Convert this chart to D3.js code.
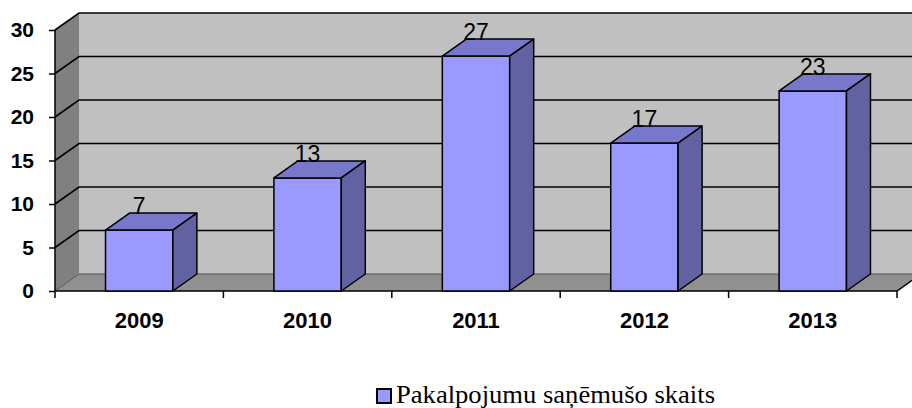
<!DOCTYPE html>
<html>
<head>
<meta charset="utf-8">
<script src="https://cdn.jsdelivr.net/npm/d3@7"></script>
<style>
  body { margin: 0; background: #fff; }
  svg { display: block; }
</style>
</head>
<body>
<svg id="chart" width="912" height="408"></svg>
<script>
var years = ["2009", "2010", "2011", "2012", "2013"];
var counts = [7, 13, 27, 17, 23];
var yTicks = [0, 5, 10, 15, 20, 25, 30];
var seriesName = "Pakalpojumu saņēmušo skaits";

var DX = 24, DY = -17;   // depth offset of the 3d box

var svg = d3.select("#chart");

var x = d3.scaleBand()
    .domain(years)
    .range([55, 897])
    .paddingInner(0.6)
    .paddingOuter(0.3);

var y = d3.scaleLinear()
    .domain([0, 30])
    .range([291, 30]);

var left = x.range()[0], right = x.range()[1];

function pts(a) {
    return a.map(function (p) { return p.join(","); }).join(" ");
}

// back wall
svg.append("rect")
    .attr("x", left + DX)
    .attr("y", y(30) + DY)
    .attr("width", right - left + 10)
    .attr("height", y(0) - y(30))
    .attr("fill", "#c0c0c0");

// side wall
svg.append("polygon")
    .attr("points", pts([[left, y(0)], [left, y(30)], [left + DX, y(30) + DY], [left + DX, y(0) + DY]]))
    .attr("fill", "#808080");

// floor
svg.append("polygon")
    .attr("points", pts([[left, y(0)], [right, y(0)], [right + DX, y(0) + DY], [left + DX, y(0) + DY]]))
    .attr("fill", "#909090");

// gridlines
var grid = svg.append("g").attr("fill", "none");
yTicks.forEach(function (t) {
    grid.append("polyline")
        .attr("points", pts([[left, y(t)], [left + DX, y(t) + DY], [right + DX + 10, y(t) + DY]]))
        .attr("stroke", t === 0 ? "#555" : "#000")
        .attr("stroke-width", t === 0 ? 1 : 1.6);
});
// side wall front edge + floor front edge
svg.append("line")
    .attr("x1", left).attr("y1", y(30)).attr("x2", left).attr("y2", y(0))
    .attr("stroke", "#000").attr("stroke-width", 1.5);
svg.append("polyline")
    .attr("points", pts([[left, y(0)], [right, y(0)], [right + DX, y(0) + DY]]))
    .attr("fill", "none").attr("stroke", "#000").attr("stroke-width", 1.5);

// y axis
var yAxis = svg.append("g")
    .attr("transform", "translate(" + left + ",0)")
    .call(d3.axisLeft(y).tickValues(yTicks).tickSize(6).tickPadding(15));
yAxis.select(".domain").remove();
yAxis.selectAll("line").attr("stroke", "#000").attr("stroke-width", 1.5);
yAxis.selectAll("text")
    .attr("fill", "#000")
    .style("font-family", "Arial, 'Liberation Sans', sans-serif")
    .style("font-size", "21px")
    .style("font-weight", "bold");

// x axis ticks at category boundaries
var bounds = years.map(function (d) { return x(d) - x.step() * x.paddingOuter(); }).concat([right]);
svg.append("g").selectAll("line")
    .data(bounds)
    .join("line")
    .attr("x1", function (d) { return d; })
    .attr("x2", function (d) { return d; })
    .attr("y1", y(0))
    .attr("y2", y(0) + 7)
    .attr("stroke", "#000")
    .attr("stroke-width", 1.5);

svg.append("g").selectAll("text")
    .data(years)
    .join("text")
    .attr("x", function (d) { return x(d) + x.bandwidth() / 2; })
    .attr("y", 328)
    .attr("text-anchor", "middle")
    .style("font-family", "Arial, 'Liberation Sans', sans-serif")
    .style("font-size", "22px")
    .style("font-weight", "bold")
    .text(function (d) { return d; });

// bars
var data = years.map(function (d, i) { return { year: d, value: counts[i] }; });
var bars = svg.append("g").selectAll("g")
    .data(data)
    .join("g")
    .attr("stroke", "#000")
    .attr("stroke-width", 1.5)
    .attr("stroke-linejoin", "round");

bars.append("rect")
    .attr("x", function (d) { return x(d.year); })
    .attr("y", function (d) { return y(d.value); })
    .attr("width", x.bandwidth())
    .attr("height", function (d) { return y(0) - y(d.value); })
    .attr("fill", "#9999ff");

bars.append("polygon")
    .attr("points", function (d) {
        var x0 = x(d.year), x1 = x0 + x.bandwidth(), yt = y(d.value);
        return pts([[x0, yt], [x1, yt], [x1 + DX, yt + DY], [x0 + DX, yt + DY]]);
    })
    .attr("fill", "#7777cc");

bars.append("polygon")
    .attr("points", function (d) {
        var x1 = x(d.year) + x.bandwidth(), yt = y(d.value), yb = y(0);
        return pts([[x1, yt], [x1 + DX, yt + DY], [x1 + DX, yb + DY], [x1, yb]]);
    })
    .attr("fill", "#6262a3");

// value labels
svg.append("g").selectAll("text")
    .data(data)
    .join("text")
    .attr("x", function (d) { return x(d.year) + x.bandwidth() / 2; })
    .attr("y", function (d) { return y(d.value) + DY + 1; })
    .attr("text-anchor", "middle")
    .style("font-family", "Arial, 'Liberation Sans', sans-serif")
    .style("font-size", "23px")
    .text(function (d) { return d.value; });

// legend
var legend = svg.append("g").attr("transform", "translate(377,389)");
legend.append("rect")
    .attr("width", 14).attr("height", 14)
    .attr("fill", "#9999ff")
    .attr("stroke", "#000")
    .attr("stroke-width", 2);
legend.append("text")
    .attr("x", 19)
    .attr("y", 14)
    .attr("textLength", 319)
    .attr("lengthAdjust", "spacingAndGlyphs")
    .style("font-family", "'Liberation Serif', 'Times New Roman', 'DejaVu Serif', serif")
    .style("font-size", "25px")
    .text(seriesName);
</script>
</body>
</html>
